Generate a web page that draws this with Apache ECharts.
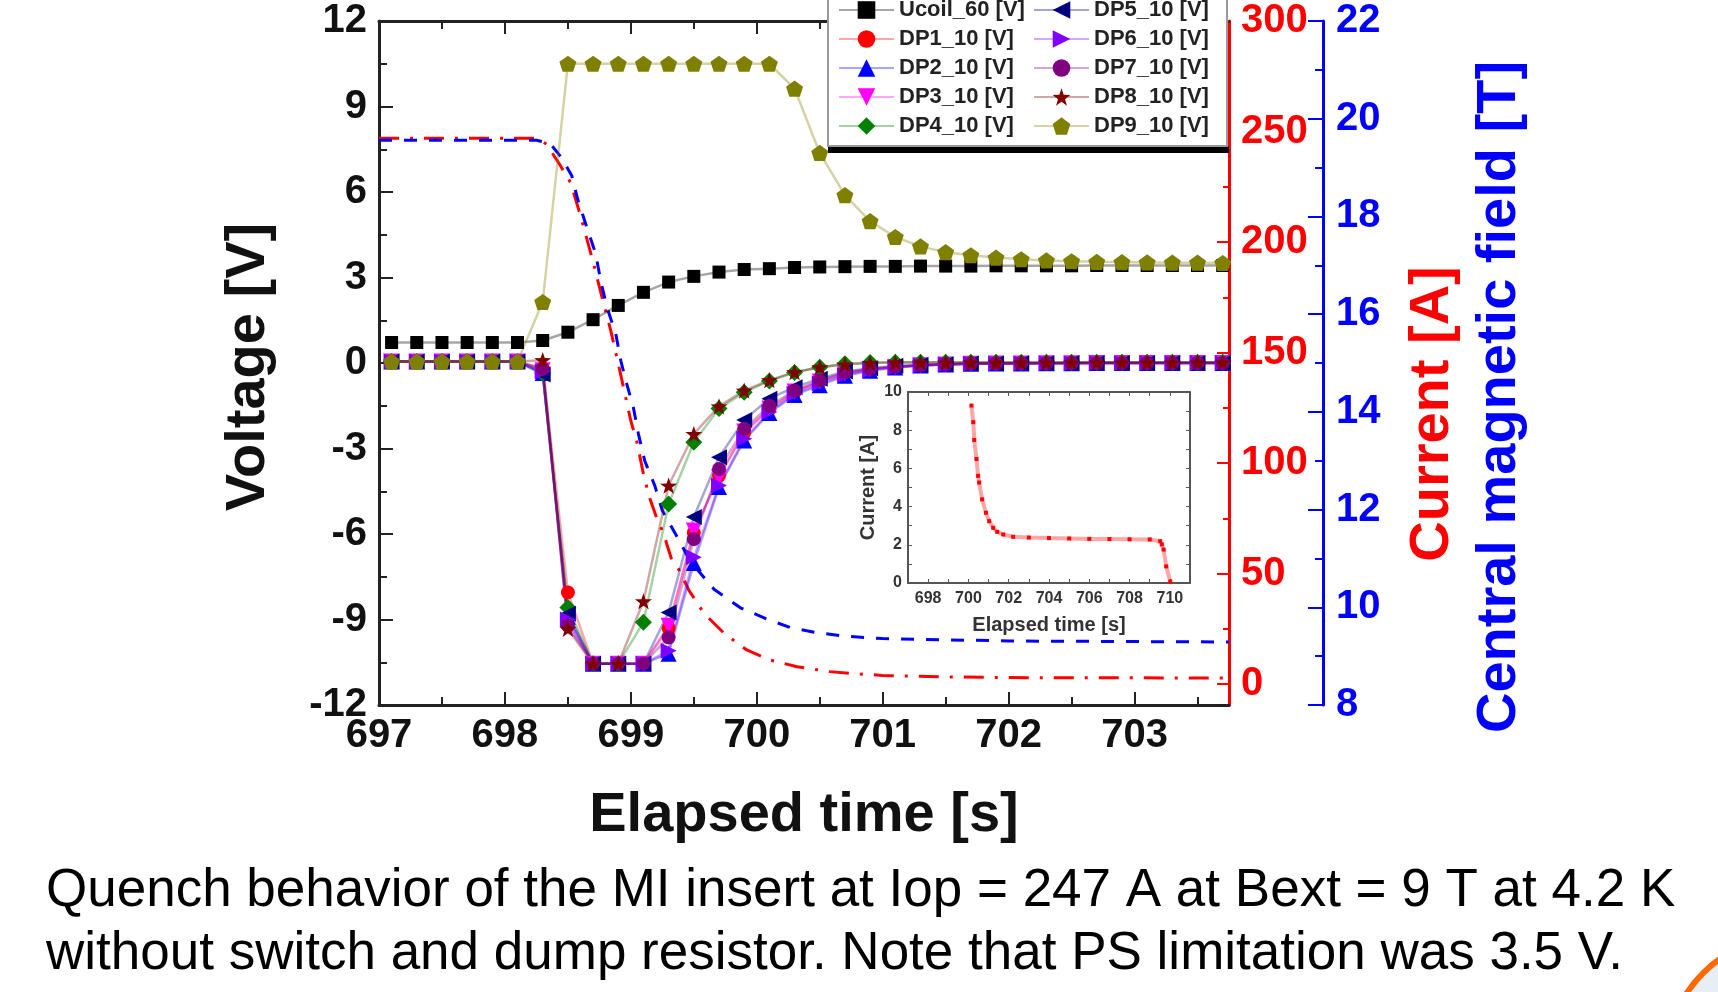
<!DOCTYPE html>
<html>
<head>
<meta charset="utf-8">
<script src="https://cdn.jsdelivr.net/npm/echarts@6/dist/echarts.min.js"></script>
<style>
  html, body { margin: 0; padding: 0; background: #fff; }
  #main { width: 1718px; height: 992px; }
</style>
</head>
<body>
<div id="main"></div>
<script>
// sample times of the voltage taps (s)
var times = [697.1, 697.3, 697.5, 697.7, 697.9, 698.1, 698.3, 698.5, 698.7, 698.9,
  699.1, 699.3, 699.5, 699.7, 699.9, 700.1, 700.3, 700.5, 700.7, 700.9,
  701.1, 701.3, 701.5, 701.7, 701.9, 702.1, 702.3, 702.5, 702.7, 702.9,
  703.1, 703.3, 703.5, 703.7];

var ucoil = [0.72, 0.72, 0.72, 0.72, 0.72, 0.72, 0.79, 1.08, 1.52, 2.02,
  2.48, 2.84, 3.04, 3.19, 3.28, 3.31, 3.35, 3.37, 3.38, 3.39,
  3.39, 3.40, 3.40, 3.40, 3.41, 3.41, 3.41, 3.41, 3.42, 3.42,
  3.42, 3.42, 3.42, 3.42];
var dp1 = [0.05, 0.05, 0.05, 0.05, 0.05, 0.05, -0.2, -8.05, -10.55, -10.55,
  -10.55, -9.3, -5.95, -3.95, -2.45, -1.62, -1.02, -0.66, -0.38, -0.22,
  -0.14, -0.08, -0.05, -0.03, -0.02, -0.02, -0.01, -0.01, 0, 0,
  0, 0, 0, 0];
var dp2 = [0.05, 0.05, 0.05, 0.05, 0.05, 0.05, -0.35, -8.9, -10.55, -10.55,
  -10.55, -10.2, -7.02, -4.35, -2.72, -1.75, -1.12, -0.78, -0.45, -0.27,
  -0.16, -0.09, -0.05, -0.03, -0.02, -0.02, -0.01, -0.01, 0, 0,
  0, 0, 0, 0];
var dp3 = [0.05, 0.05, 0.05, 0.05, 0.05, 0.05, -0.25, -9.1, -10.55, -10.55,
  -10.55, -9.22, -5.88, -4.01, -2.4, -1.6, -1.0, -0.65, -0.36, -0.22,
  -0.14, -0.08, -0.05, -0.03, -0.02, -0.02, -0.01, -0.01, 0, 0,
  0, 0, 0, 0];
var dp4 = [0.05, 0.05, 0.05, 0.05, 0.05, 0.05, -0.35, -8.58, -10.55, -10.55,
  -9.1, -4.95, -2.78, -1.6, -1.03, -0.63, -0.33, -0.15, -0.03, 0.02,
  0.03, 0.03, 0.03, 0.03, 0.03, 0.03, 0.03, 0.03, 0.03, 0.03,
  0.03, 0.03, 0.03, 0.03];
var dp5 = [0.05, 0.05, 0.05, 0.05, 0.05, 0.05, -0.4, -8.8, -10.55, -10.55,
  -10.55, -8.75, -5.4, -3.31, -2.0, -1.25, -0.85, -0.55, -0.3, -0.18,
  -0.1, -0.07, -0.04, -0.02, -0.02, -0.01, -0.01, 0, 0, 0,
  0, 0, 0, 0];
var dp6 = [0.05, 0.05, 0.05, 0.05, 0.05, 0.05, -0.3, -9.0, -10.55, -10.55,
  -10.55, -10.1, -6.82, -4.3, -2.66, -1.72, -1.08, -0.72, -0.42, -0.25,
  -0.15, -0.09, -0.05, -0.03, -0.02, -0.02, -0.01, -0.01, 0, 0,
  0, 0, 0, 0];
var dp7 = [0.05, 0.05, 0.05, 0.05, 0.05, 0.05, -0.2, -9.22, -10.55, -10.55,
  -10.55, -9.63, -6.18, -3.72, -2.31, -1.5, -0.97, -0.61, -0.33, -0.2,
  -0.13, -0.08, -0.04, -0.02, -0.02, -0.01, -0.01, 0, 0, 0,
  0, 0, 0, 0];
var dp8 = [0.05, 0.05, 0.05, 0.05, 0.05, 0.05, 0.1, -9.33, -10.55, -10.55,
  -8.36, -4.3, -2.49, -1.52, -0.97, -0.6, -0.32, -0.15, -0.05, 0.0,
  0.02, 0.02, 0.02, 0.02, 0.02, 0.02, 0.02, 0.02, 0.02, 0.02,
  0.02, 0.02, 0.02, 0.02];
var dp9 = [0.05, 0.05, 0.05, 0.05, 0.05, 0.05, 2.14, 10.5, 10.5, 10.5,
  10.5, 10.5, 10.5, 10.5, 10.5, 10.5, 9.63, 7.37, 5.89, 4.98,
  4.42, 4.09, 3.89, 3.78, 3.70, 3.64, 3.60, 3.57, 3.55, 3.54,
  3.53, 3.52, 3.52, 3.51];

// coil current (A), right red axis
var currentTime = [697.0, 698.25, 698.33, 698.43, 698.52, 698.6, 698.7, 698.78, 698.84, 698.9,
  698.95, 699.0, 699.05, 699.1, 699.15, 699.2, 699.26, 699.32, 699.39, 699.46,
  699.58, 699.74, 699.92, 700.11, 700.32, 700.58, 700.74, 701.0, 701.5, 702.0, 703.75];
var currentVal = [247.0, 247.0, 244.3, 235.5, 227, 212, 191, 173, 160, 145,
  132, 119, 109, 95, 84, 76, 68, 57, 51, 42.5,
  32, 23, 15.4, 10.8, 7.8, 5.6, 4.8, 3.9, 3.2, 2.9, 2.7];

// central magnetic field (T), blue axis
var fieldTime = [697.0, 698.25, 698.36, 698.45, 698.53, 698.58, 698.65, 698.72, 698.76, 698.81,
  698.88, 698.92, 698.96, 699.02, 699.06, 699.11, 699.19, 699.25, 699.37, 699.47,
  699.66, 699.87, 700.08, 700.27, 700.48, 700.69, 701.0, 702.0, 703.75];
var fieldVal = [19.56, 19.56, 19.49, 19.2, 18.84, 18.33, 17.78, 17.24, 16.69, 16.14,
  15.6, 15.05, 14.64, 14.09, 13.55, 13.0, 12.49, 11.98, 11.43, 10.95,
  10.37, 9.99, 9.76, 9.58, 9.48, 9.41, 9.36, 9.31, 9.29];

// inset: current tail
var insetTime = [700.15, 700.24, 700.29, 700.40, 700.48, 700.53, 700.68, 700.87, 701.03, 701.23,
  701.43, 701.73, 702.22, 703.0, 704.0, 705.0, 706.0, 707.0, 708.0, 709.0,
  709.52, 709.6, 709.69, 709.82, 710.02];
var insetVal = [9.29, 8.42, 7.49, 6.49, 5.61, 5.26, 4.38, 3.68, 3.24, 2.89,
  2.68, 2.54, 2.42, 2.38, 2.35, 2.33, 2.31, 2.30, 2.29, 2.28,
  2.19, 2.02, 1.75, 0.87, 0.08];

var seriesNames = ['Ucoil_60 [V]', 'DP1_10 [V]', 'DP2_10 [V]', 'DP3_10 [V]', 'DP4_10 [V]',
  'DP5_10 [V]', 'DP6_10 [V]', 'DP7_10 [V]', 'DP8_10 [V]', 'DP9_10 [V]'];

// tick labels
var xMajor = [697, 698, 699, 700, 701, 702, 703];
var xMinor = [697.5, 698.5, 699.5, 700.5, 701.5, 702.5, 703.5];
var currentLabels = [0, 50, 100, 150, 200, 250, 300];
var currentMinor = [25, 75, 125, 175, 225, 275];
var insetXLabels = [698, 700, 702, 704, 706, 708, 710];
var insetYLabels = [0, 2, 4, 6, 8, 10];

(function() {
  var chartDom = document.getElementById('main');
  var myChart = echarts.init(chartDom);
  var option;

  var FONT = '"Liberation Sans", Arial, sans-serif';
  var STAR = 'path://M0,-10L2.35,-3.24L9.51,-3.09L3.8,1.24L5.88,8.09L0,4L-5.88,8.09L-3.8,1.24L-9.51,-3.09L-2.35,-3.24Z';
  var PENTA = 'path://M0,-10L9.51,-3.09L5.88,8.09L-5.88,8.09L-9.51,-3.09Z';

  var tapData = [ucoil, dp1, dp2, dp3, dp4, dp5, dp6, dp7, dp8, dp9];
  var tapStyle = [
    { color: '#000000', rgb: '0,0,0', symbol: 'rect', size: 13, rot: 0 },
    { color: '#ff0000', rgb: '255,0,0', symbol: 'circle', size: 14, rot: 0 },
    { color: '#0000ff', rgb: '0,0,255', symbol: 'triangle', size: 16, rot: 0 },
    { color: '#ff00ff', rgb: '255,0,255', symbol: 'triangle', size: 16, rot: 180 },
    { color: '#008000', rgb: '0,128,0', symbol: 'diamond', size: 17, rot: 0 },
    { color: '#000080', rgb: '0,0,128', symbol: 'triangle', size: 16, rot: 90 },
    { color: '#8000ff', rgb: '128,0,255', symbol: 'triangle', size: 16, rot: -90 },
    { color: '#800080', rgb: '128,0,128', symbol: 'circle', size: 14, rot: 0 },
    { color: '#800000', rgb: '128,0,0', symbol: STAR, size: 17, rot: 0 },
    { color: '#808000', rgb: '128,128,0', symbol: PENTA, size: 17, rot: 0 }
  ];

  function pairs(xs, ys) {
    return xs.map(function(x, i) { return [x, ys[i]]; });
  }

  var series = [
    {
      name: 'Current',
      type: 'line',
      xAxisIndex: 0,
      yAxisIndex: 1,
      symbol: 'none',
      z: 1,
      lineStyle: { color: '#ff0000', width: 3, type: [20, 11, 3, 11] },
      data: pairs(currentTime, currentVal)
    },
    {
      name: 'Field',
      type: 'line',
      xAxisIndex: 0,
      yAxisIndex: 3,
      symbol: 'none',
      z: 1,
      lineStyle: { color: '#0000ff', width: 3, type: [13, 12] },
      data: pairs(fieldTime, fieldVal)
    }
  ];

  tapData.forEach(function(d, k) {
    var s = tapStyle[k];
    series.push({
      name: seriesNames[k],
      type: 'line',
      xAxisIndex: 0,
      yAxisIndex: 0,
      symbol: s.symbol,
      symbolSize: s.size,
      symbolRotate: s.rot,
      symbolKeepAspect: true,
      showAllSymbol: true,
      itemStyle: { color: s.color },
      lineStyle: { color: 'rgba(' + s.rgb + ',0.35)', width: 2.5 },
      data: pairs(times, d)
    });
  });

  series.push({
    name: 'Inset current',
    type: 'line',
    xAxisIndex: 4,
    yAxisIndex: 4,
    symbol: 'rect',
    symbolSize: 4,
    itemStyle: { color: '#ff0000' },
    lineStyle: { color: 'rgba(255,0,0,0.35)', width: 4 },
    data: pairs(insetTime, insetVal)
  });

  var bigLabel = { fontFamily: FONT, fontSize: 40, fontWeight: 'bold' };
  var frame = { color: '#222', width: 3 };

  var legendBase = {
    orient: 'vertical',
    top: -1,
    padding: 0,
    itemWidth: 55,
    itemHeight: 22,
    itemGap: 7,
    selectedMode: false,
    textStyle: { fontFamily: FONT, fontSize: 22, fontWeight: 'bold', color: '#222', lineHeight: 22 }
  };

  option = {
    animation: false,
    backgroundColor: '#fff',
    grid: [
      { left: 379, top: 21, width: 850, height: 684, outerBoundsMode: 'none' },
      { left: 908, top: 392, width: 282, height: 191, outerBoundsMode: 'none' }
    ],
    legend: [
      Object.assign({}, legendBase, { left: 838, data: seriesNames.slice(0, 5) }),
      Object.assign({}, legendBase, { left: 1033, data: seriesNames.slice(5) })
    ],
    xAxis: [
      {
        type: 'value', gridIndex: 0, position: 'bottom', min: 697, max: 703.75,
        axisLine: { onZero: false, lineStyle: frame },
        axisTick: { inside: true, length: 13, customValues: xMajor, lineStyle: { color: '#222', width: 2 } },
        axisLabel: Object.assign({ customValues: xMajor, color: '#111', margin: 11 }, bigLabel),
        splitLine: { show: false }
      },
      {
        type: 'value', gridIndex: 0, position: 'bottom', min: 697, max: 703.75,
        axisLine: { show: false, onZero: false },
        axisTick: { inside: true, length: 8, customValues: xMinor, lineStyle: { color: '#222', width: 2 } },
        axisLabel: { show: false },
        splitLine: { show: false }
      },
      {
        type: 'value', gridIndex: 0, position: 'top', min: 697, max: 703.75,
        axisLine: { onZero: false, lineStyle: frame },
        axisTick: { inside: true, length: 13, customValues: xMajor, lineStyle: { color: '#222', width: 2 } },
        axisLabel: { show: false },
        splitLine: { show: false }
      },
      {
        type: 'value', gridIndex: 0, position: 'top', min: 697, max: 703.75,
        axisLine: { show: false, onZero: false },
        axisTick: { inside: true, length: 8, customValues: xMinor, lineStyle: { color: '#222', width: 2 } },
        axisLabel: { show: false },
        splitLine: { show: false }
      },
      {
        type: 'value', gridIndex: 1, position: 'bottom', min: 697, max: 711, interval: 1,
        axisLine: { onZero: false, lineStyle: { color: '#555', width: 2 } },
        axisTick: { inside: true, length: 4, lineStyle: { color: '#555' } },
        axisLabel: { customValues: insetXLabels, fontFamily: FONT, fontSize: 16, fontWeight: 'bold', color: '#333', margin: 8 },
        splitLine: { show: false },
        name: 'Elapsed time [s]',
        nameLocation: 'middle',
        nameGap: 32,
        nameTextStyle: { fontFamily: FONT, fontSize: 20, fontWeight: 'bold', color: '#333' }
      },
      {
        type: 'value', gridIndex: 1, position: 'top', min: 697, max: 711, interval: 1,
        axisLine: { onZero: false, lineStyle: { color: '#555', width: 2 } },
        axisTick: { inside: true, length: 4, lineStyle: { color: '#555' } },
        axisLabel: { show: false },
        splitLine: { show: false }
      }
    ],
    yAxis: [
      {
        type: 'value', gridIndex: 0, position: 'left', min: -12, max: 12, interval: 3,
        axisLine: { show: true, onZero: false, lineStyle: frame },
        axisTick: { inside: true, length: 14, lineStyle: { color: '#222', width: 2 } },
        minorTick: { show: true, splitNumber: 2, length: 8, lineStyle: { color: '#222', width: 2 } },
        axisLabel: Object.assign({ color: '#111', margin: 12 }, bigLabel),
        splitLine: { show: false }
      },
      {
        type: 'value', gridIndex: 0, position: 'right', min: -9.5, max: 300,
        axisLine: { show: true, onZero: false, lineStyle: { color: '#ff0000', width: 3 } },
        axisTick: { inside: true, length: 12, customValues: currentLabels, lineStyle: { color: '#ff0000', width: 2 } },
        axisLabel: Object.assign({ customValues: currentLabels, color: '#ff0000', margin: 12 }, bigLabel),
        splitLine: { show: false }
      },
      {
        type: 'value', gridIndex: 0, position: 'right', min: -9.5, max: 300,
        axisLine: { show: false, onZero: false },
        axisTick: { inside: true, length: 6, customValues: currentMinor, lineStyle: { color: '#ff0000', width: 2 } },
        axisLabel: { show: false },
        splitLine: { show: false }
      },
      {
        type: 'value', gridIndex: 0, position: 'right', offset: 94, min: 8, max: 22, interval: 2,
        axisLine: { show: true, onZero: false, lineStyle: { color: '#0000ff', width: 3 } },
        axisTick: { inside: true, length: 15, lineStyle: { color: '#0000ff', width: 2 } },
        minorTick: { show: true, splitNumber: 2, length: 8, lineStyle: { color: '#0000ff', width: 2 } },
        axisLabel: Object.assign({ color: '#0000ff', margin: 13 }, bigLabel),
        splitLine: { show: false }
      },
      {
        type: 'value', gridIndex: 1, position: 'left', min: 0, max: 10, interval: 1,
        axisLine: { show: true, onZero: false, lineStyle: { color: '#555', width: 2 } },
        axisTick: { inside: true, length: 4, lineStyle: { color: '#555' } },
        axisLabel: { customValues: insetYLabels, fontFamily: FONT, fontSize: 16, fontWeight: 'bold', color: '#333', margin: 6 },
        splitLine: { show: false },
        name: 'Current [A]',
        nameLocation: 'middle',
        nameGap: 30,
        nameRotate: 90,
        nameTextStyle: { fontFamily: FONT, fontSize: 20, fontWeight: 'bold', color: '#333' }
      },
      {
        type: 'value', gridIndex: 1, position: 'right', min: 0, max: 10, interval: 1,
        axisLine: { show: true, onZero: false, lineStyle: { color: '#555', width: 2 } },
        axisTick: { inside: true, length: 4, lineStyle: { color: '#555' } },
        axisLabel: { show: false },
        splitLine: { show: false }
      }
    ],
    graphic: [
      // legend box with its dark drop edge
      { type: 'rect', z: 3, shape: { x: 828, y: 146, width: 401, height: 7 }, style: { fill: '#000' } },
      { type: 'rect', z: 3, shape: { x: 828, y: -6, width: 399, height: 152 }, style: { fill: '#fff', stroke: '#999', lineWidth: 2 } },
      // axis titles
      { type: 'text', x: 249, y: 367, rotation: Math.PI / 2,
        style: { text: 'Voltage [V]', fontFamily: FONT, fontSize: 56, fontWeight: 'bold', fill: '#111',
                 align: 'center', verticalAlign: 'middle', textAlign: 'center', textVerticalAlign: 'middle' } },
      { type: 'text', x: 804, y: 816,
        style: { text: 'Elapsed time [s]', fontFamily: FONT, fontSize: 56, fontWeight: 'bold', fill: '#111',
                 align: 'center', verticalAlign: 'middle', textAlign: 'center', textVerticalAlign: 'middle' } },
      { type: 'text', x: 1433, y: 414, rotation: Math.PI / 2,
        style: { text: 'Current [A]', fontFamily: FONT, fontSize: 56, fontWeight: 'bold', fill: '#ff0000',
                 align: 'center', verticalAlign: 'middle', textAlign: 'center', textVerticalAlign: 'middle' } },
      { type: 'text', x: 1500, y: 397, rotation: Math.PI / 2,
        style: { text: 'Central magnetic field [T]', fontFamily: FONT, fontSize: 56, fontWeight: 'bold', fill: '#0000ff',
                 align: 'center', verticalAlign: 'middle', textAlign: 'center', textVerticalAlign: 'middle' } },
      // caption
      { type: 'text', x: 46, y: 891,
        style: { text: 'Quench behavior of the MI insert at Iop = 247 A at Bext = 9 T at 4.2 K', fontFamily: FONT, fontSize: 53, fill: '#000',
                 align: 'left', verticalAlign: 'middle', textAlign: 'left', textVerticalAlign: 'middle' } },
      { type: 'text', x: 46, y: 954,
        style: { text: 'without switch and dump resistor. Note that PS limitation was 3.5 V.', fontFamily: FONT, fontSize: 53, fill: '#000',
                 align: 'left', verticalAlign: 'middle', textAlign: 'left', textVerticalAlign: 'middle' } },
      // slide decoration in the corner
      { type: 'circle', shape: { cx: 1790, cy: 1060, r: 123 }, style: { fill: '#e8eef6', stroke: '#ff6a00', lineWidth: 6 } }
    ],
    series: series
  };

  option && myChart.setOption(option);
  window.addEventListener('resize', function() {
    myChart.resize();
  });
})();
</script>
</body>
</html>
